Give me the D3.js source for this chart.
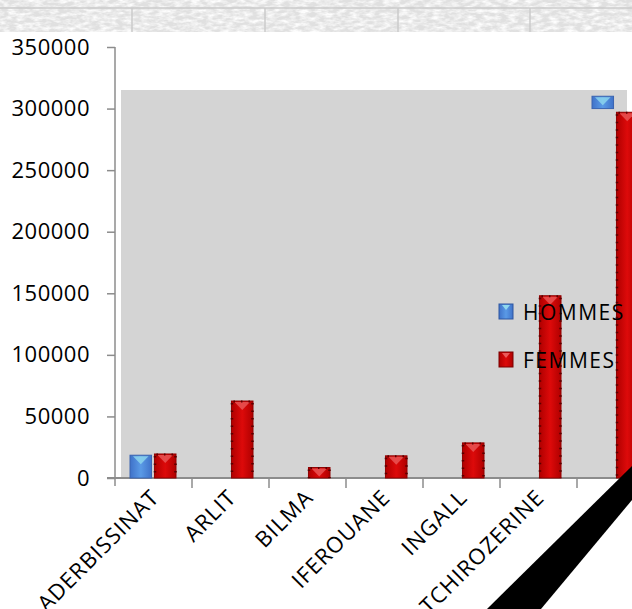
<!DOCTYPE html>
<html>
<head>
<meta charset="utf-8">
<script src="https://cdn.jsdelivr.net/npm/d3@7"></script>
<style>
  body { margin: 0; background: #fff; }
  svg { display: block; font-family: "Open Sans", sans-serif; }
</style>
</head>
<body>
<div id="mycanvas"></div>
<script>
const width = 632;
const height = 609;

// data
const categories = ["ADERBISSINAT", "ARLIT", "BILMA", "IFEROUANE", "INGALL", "TCHIROZERINE", "AGADEZ"];
const series = ["HOMMES", "FEMMES"];
const hommes = [18500, 0, 0, 0, 0, 0, 310000];
const hommesBase = [0, 0, 0, 0, 0, 0, 300000]; // only the cap of the last blue bar shows
const femmes = [19500, 62500, 8500, 18000, 28500, 148000, 297000];
const yTicks = [0, 50000, 100000, 150000, 200000, 250000, 300000, 350000];

const svg = d3
  .select("#mycanvas")
  .append("svg")
  .attr("width", width)
  .attr("height", height);

const defs = svg.append("defs");

// marble-ish texture for the top strip
const f = defs.append("filter").attr("id", "marble").attr("x", 0).attr("y", 0).attr("width", 1).attr("height", 1);
f.append("feTurbulence").attr("type", "fractalNoise").attr("baseFrequency", "0.12 0.3").attr("numOctaves", 3).attr("seed", 7);
f.append("feColorMatrix").attr("type", "matrix")
  .attr("values", "0 0 0 0 0.98  0 0 0 0 0.98  0 0 0 0 0.98  0 0 0 -2.2 1.45");

const grad = (id, c1, c2, c3) => {
  const lg = defs.append("linearGradient").attr("id", id).attr("x1", 0).attr("x2", 1);
  lg.append("stop").attr("offset", "0%").attr("stop-color", c1);
  lg.append("stop").attr("offset", "50%").attr("stop-color", c2);
  lg.append("stop").attr("offset", "100%").attr("stop-color", c3);
};
grad("gH", "#3f72c9", "#5a9ae6", "#3f72c9");
grad("gF", "#b00000", "#dd0a0a", "#b00000");

// top strip
const strip = svg.append("g");
strip.append("rect").attr("width", width).attr("height", 32).attr("fill", "#e0e0e0");
strip.append("rect").attr("width", width).attr("height", 32).attr("fill", "#fff").attr("filter", "url(#marble)");
strip.append("line").attr("x1", 0).attr("x2", width).attr("y1", 8).attr("y2", 8).attr("stroke", "#cbcbcb").attr("stroke-width", 1.5);
strip.selectAll("line.v")
  .data([132, 265, 398, 530])
  .join("line")
  .attr("class", "v")
  .attr("x1", (d) => d).attr("x2", (d) => d)
  .attr("y1", 8).attr("y2", 32)
  .attr("stroke", "#cbcbcb").attr("stroke-width", 1.5);

const margin = { left: 115, top: 47, bottom: 478 };

const x = d3.scaleBand().domain(categories).range([115, 654]);
const x1 = d3.scaleBand().domain(series).range([15, 61]).paddingInner(0.12);
const y = d3.scaleLinear().domain([0, 350000]).range([margin.bottom, margin.top]);

// plot area
svg.append("rect")
  .attr("x", 121).attr("y", 90)
  .attr("width", 627 - 121).attr("height", margin.bottom - 90)
  .attr("fill", "#d4d4d4");

// y axis
const yAxis = svg.append("g")
  .attr("transform", `translate(${margin.left},0)`)
  .call(d3.axisLeft(y).tickValues(yTicks).tickSize(8).tickPadding(17).tickFormat(d3.format("d")));
yAxis.select(".domain").attr("stroke", "#8c8c8c").attr("stroke-width", 1.5)
  .attr("d", `M0,${margin.top}V${margin.bottom + 8}`);
yAxis.selectAll(".tick line").attr("stroke", "#8c8c8c").attr("stroke-width", 1.5);
yAxis.selectAll(".tick text")
  .attr("fill", "#000")
  .attr("font-size", 22)
  .attr("font-family", "Open Sans")
  .attr("letter-spacing", 0.5);

// x axis
const xAxis = svg.append("g").attr("transform", `translate(0,${margin.bottom})`);
xAxis.append("line")
  .attr("x1", 107).attr("x2", width)
  .attr("stroke", "#8c8c8c").attr("stroke-width", 2);
xAxis.selectAll("line.tk")
  .data(categories.slice(1))
  .join("line")
  .attr("class", "tk")
  .attr("x1", (d) => x(d)).attr("x2", (d) => x(d))
  .attr("y1", 0).attr("y2", 10)
  .attr("stroke", "#8c8c8c").attr("stroke-width", 1.5);

// the last label is not visible in the reference (hidden under the ribbon)
xAxis.selectAll("text")
  .data(categories.slice(0, -1))
  .join("text")
  .attr("transform", (d) => `translate(${x(d) + x.bandwidth() / 2 + 7},${21}) rotate(-45)`)
  .attr("text-anchor", "end")
  .attr("font-size", 22)
  .attr("letter-spacing", 1)
  .attr("fill", "#000")
  .text((d) => d);

// bars
const drawBar = (g, x0, w, y0, y1, kind) => {
  const h = y0 - y1;
  if (h <= 0) return;
  const isH = kind === "HOMMES";
  g.append("rect")
    .attr("x", x0).attr("y", y1).attr("width", w).attr("height", h)
    .attr("fill", isH ? "url(#gH)" : "url(#gF)")
    .attr("stroke", isH ? "#3a64b0" : "#8e0000").attr("stroke-width", 1);
  // light bevel on top
  const t = Math.min(9, h - 1);
  g.append("path")
    .attr("d", `M${x0 + 3},${y1 + 1}L${x0 + w - 3},${y1 + 1}L${x0 + w / 2},${y1 + t}Z`)
    .attr("fill", isH ? "#8fd8ee" : "#ea5a5a")
    .attr("opacity", 0.8);
  if (!isH) {
    // rough dotted sides
    [x0 + 0.5, x0 + w - 0.5].forEach((sx) => {
      g.append("line")
        .attr("x1", sx).attr("x2", sx).attr("y1", y1 + 2).attr("y2", y0)
        .attr("stroke", "#5a0000").attr("stroke-width", 2.5)
        .attr("stroke-dasharray", "1.5 6");
    });
    g.append("line")
      .attr("x1", x0 + 2).attr("x2", x0 + w - 2).attr("y1", y1 + 0.5).attr("y2", y1 + 0.5)
      .attr("stroke", "#5a0000").attr("stroke-width", 2)
      .attr("stroke-dasharray", "1.5 6");
  }
};

const bars = svg.append("g");
categories.forEach((c, i) => {
  drawBar(bars, x(c) + x1("HOMMES"), x1.bandwidth(), y(hommesBase[i]), y(hommes[i]), "HOMMES");
  drawBar(bars, x(c) + x1("FEMMES"), x1.bandwidth(), y(0), y(femmes[i]), "FEMMES");
});

// legend
const legend = svg.append("g").attr("transform", "translate(499,304)");
series.forEach((s, i) => {
  const lg = legend.append("g").attr("transform", `translate(0,${i * 48})`);
  lg.append("rect").attr("width", 14).attr("height", 15)
    .attr("fill", s === "HOMMES" ? "url(#gH)" : "url(#gF)")
    .attr("stroke", s === "HOMMES" ? "#2f56a0" : "#7a0000");
  lg.append("path").attr("d", "M3,1L11,1L7,6Z").attr("fill", s === "HOMMES" ? "#8fd8ee" : "#ea5a5a");
  lg.append("text")
    .attr("x", 24).attr("y", 16)
    .attr("font-size", 21)
    .attr("letter-spacing", 1.5)
    .attr("fill", "#000")
    .text(s);
});

// black ribbon across the bottom right corner
svg.append("path")
  .attr("d", `M${width},${height - 143}L${width},${height - 109}L${width - 91},${height}L${width - 145},${height}Z`)
  .attr("fill", "#000");
</script>
</body>
</html>
